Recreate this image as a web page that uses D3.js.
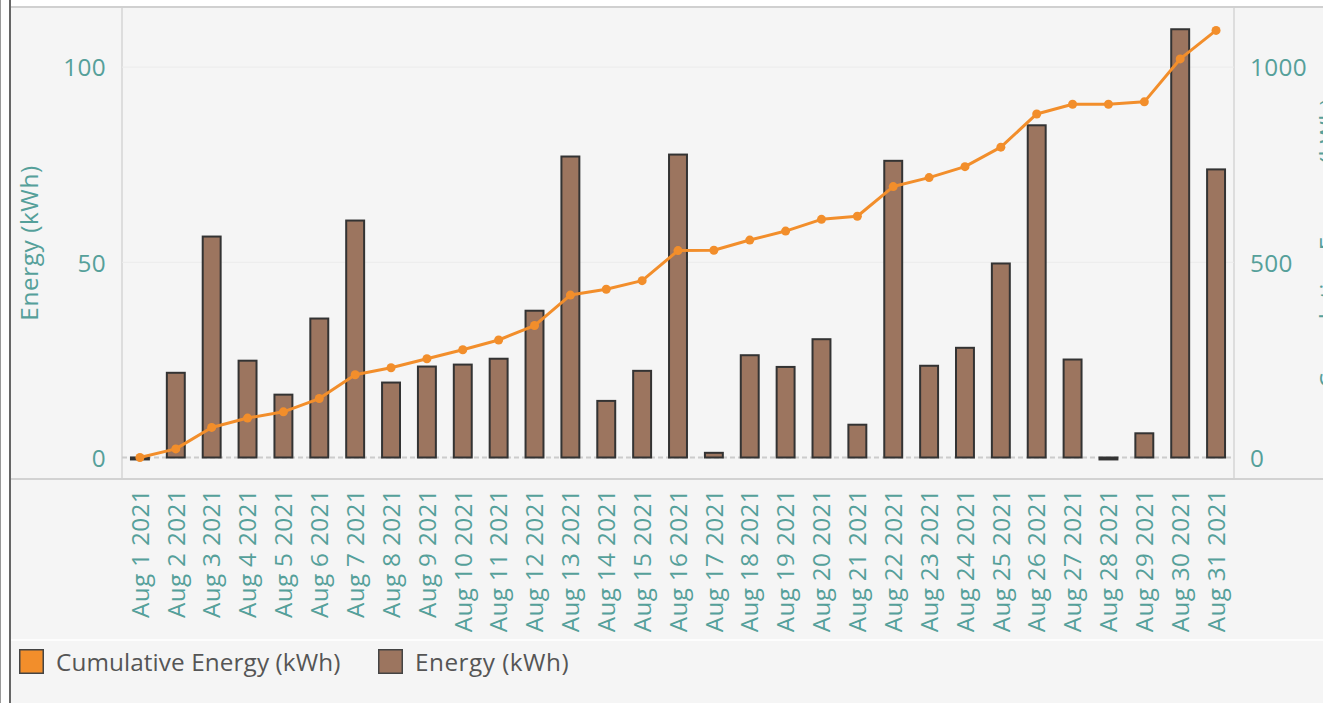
<!DOCTYPE html>
<html>
<head>
<meta charset="utf-8">
<script src="https://cdn.jsdelivr.net/npm/d3@7"></script>
<style>
  html, body { margin: 0; padding: 0; background: #ffffff; }
  svg { display: block; }
  text { font-family: "Open Sans", "Noto Sans", sans-serif; letter-spacing: 0.35px; }
</style>
</head>
<body>
<svg id="chart" width="1323" height="703"></svg>
<script>
// ---- data ----
const categories = [
  "Aug 1 2021","Aug 2 2021","Aug 3 2021","Aug 4 2021","Aug 5 2021","Aug 6 2021","Aug 7 2021",
  "Aug 8 2021","Aug 9 2021","Aug 10 2021","Aug 11 2021","Aug 12 2021","Aug 13 2021","Aug 14 2021",
  "Aug 15 2021","Aug 16 2021","Aug 17 2021","Aug 18 2021","Aug 19 2021","Aug 20 2021","Aug 21 2021",
  "Aug 22 2021","Aug 23 2021","Aug 24 2021","Aug 25 2021","Aug 26 2021","Aug 27 2021","Aug 28 2021",
  "Aug 29 2021","Aug 30 2021","Aug 31 2021"
];
const energy = [
  -0.5, 21.7, 56.6, 24.8, 16.1, 35.6, 60.7, 19.2, 23.3, 23.8, 25.3, 37.6, 77.1, 14.5, 22.2, 77.6,
  1.2, 26.2, 23.2, 30.3, 8.4, 76.0, 23.5, 28.1, 49.7, 85.1, 25.1, -0.5, 6.2, 109.7, 73.8
];
const cumulative = [
  0, 22, 77, 101, 117, 151, 212, 230, 253, 276, 301, 338, 416, 431, 453, 530,
  531, 557, 580, 610, 618, 694, 717, 745, 795, 880, 905, 905, 911, 1021, 1094
];
const leftTicks = [0, 50, 100];
const rightTicks = [0, 500, 1000];
const leftTitle = "Energy (kWh)";
const rightTitle = "Cumulative Energy (kWh)";
const legendItems = ["Cumulative Energy (kWh)", "Energy (kWh)"];

// ---- styles ----
const TEAL = "#55a09a";
const ORANGE = "#f28e2b";
const BROWN = "#9c755f";
const FS = 24.3;

const svg = d3.select("#chart");
const W = 1323, H = 703;

// page frame
svg.append("rect").attr("x", 0).attr("y", 0).attr("width", W).attr("height", H).attr("fill", "#ffffff");
svg.append("rect").attr("x", 11).attr("y", 6).attr("width", W - 11).attr("height", H - 6).attr("fill", "#f5f5f5");
svg.append("line").attr("x1", 0.5).attr("x2", 0.5).attr("y1", 0).attr("y2", H).attr("stroke", "#9a9a9a").attr("stroke-width", 1);
svg.append("line").attr("x1", 10).attr("x2", 10).attr("y1", 0).attr("y2", H).attr("stroke", "#666").attr("stroke-width", 2);
svg.append("line").attr("x1", 11).attr("x2", W).attr("y1", 7).attr("y2", 7).attr("stroke", "#d0d0d0").attr("stroke-width", 2);

const plotL = 122, plotR = 1234, plotT = 7, baseY = 457.5, axisB = 479;

const x = d3.scaleBand().domain(categories).range([plotL, plotR]).paddingInner(0.5).paddingOuter(0.25);
const yL = d3.scaleLinear().domain([0, 115.4]).range([baseY, plotT]);
const yR = d3.scaleLinear().domain([0, 1154]).range([baseY, plotT]);

// pane separators
svg.append("line").attr("x1", plotL).attr("x2", plotL).attr("y1", plotT).attr("y2", axisB).attr("stroke", "#d0d0d0").attr("stroke-width", 1.3);
svg.append("line").attr("x1", plotR).attr("x2", plotR).attr("y1", plotT).attr("y2", axisB).attr("stroke", "#d0d0d0").attr("stroke-width", 1.3);
svg.append("line").attr("x1", 11).attr("x2", W).attr("y1", axisB).attr("y2", axisB).attr("stroke", "#d2d2d2").attr("stroke-width", 2);
svg.append("line").attr("x1", 11).attr("x2", W).attr("y1", 640).attr("y2", 640).attr("stroke", "#ffffff").attr("stroke-width", 1.5);

// gridlines
svg.append("g").selectAll("line").data(leftTicks.filter(d => d !== 0)).join("line")
  .attr("x1", plotL).attr("x2", plotR)
  .attr("y1", d => yL(d)).attr("y2", d => yL(d))
  .attr("stroke", "#ebebeb").attr("stroke-width", 1);

// zero line
svg.append("line").attr("x1", plotL).attr("x2", plotR).attr("y1", yL(0)).attr("y2", yL(0))
  .attr("stroke", "#cccccc").attr("stroke-width", 2).attr("stroke-dasharray", "5,3");

// left axis
const gL = svg.append("g").attr("transform", `translate(${106},0)`)
  .call(d3.axisLeft(yL).tickValues(leftTicks).tickSize(0).tickPadding(0).tickFormat(d3.format("d")));
gL.select(".domain").remove();
gL.selectAll("text").attr("fill", TEAL).style("font-size", FS + "px").attr("dy", "0.36em").attr("x", 0);

// right axis
const gR = svg.append("g").attr("transform", `translate(${1250},0)`)
  .call(d3.axisRight(yR).tickValues(rightTicks).tickSize(0).tickPadding(0).tickFormat(d3.format("d")));
gR.select(".domain").remove();
gR.selectAll("text").attr("fill", TEAL).style("font-size", FS + "px").attr("dy", "0.36em").attr("x", 0);

// x axis
const gX = svg.append("g").attr("transform", `translate(0,${axisB})`)
  .call(d3.axisBottom(x).tickSize(0).tickPadding(0));
gX.select(".domain").remove();
gX.selectAll("text")
  .attr("fill", TEAL).style("font-size", FS + "px")
  .attr("text-anchor", "end")
  .attr("transform", "rotate(-90)")
  .attr("x", -10).attr("y", 0).attr("dy", "0.36em");

// axis titles
svg.append("text").attr("transform", `translate(38,${(plotT + axisB) / 2}) rotate(-90)`)
  .attr("text-anchor", "middle").attr("fill", TEAL).style("font-size", FS + "px").style("font-weight", 500)
  .style("letter-spacing", "0.6px")
  .text(leftTitle);
svg.append("text").attr("transform", `translate(1337,${(plotT + axisB) / 2}) rotate(-90)`)
  .attr("text-anchor", "middle").attr("fill", TEAL).style("font-size", FS + "px").style("font-weight", 500)
  .text(rightTitle);

// bars
svg.append("g").selectAll("rect").data(categories).join("rect")
  .attr("x", d => x(d))
  .attr("width", x.bandwidth())
  .attr("y", (d, i) => Math.min(yL(energy[i]), yL(0)))
  .attr("height", (d, i) => Math.abs(yL(energy[i]) - yL(0)))
  .attr("fill", BROWN)
  .attr("stroke", "#333333")
  .attr("stroke-width", 2);

// cumulative line
const line = d3.line()
  .x((d, i) => x(categories[i]) + x.bandwidth() / 2)
  .y(d => yR(d));
svg.append("path").datum(cumulative).attr("d", line)
  .attr("fill", "none").attr("stroke", ORANGE).attr("stroke-width", 3).attr("stroke-linejoin", "round");
svg.append("g").selectAll("circle").data(cumulative).join("circle")
  .attr("cx", (d, i) => x(categories[i]) + x.bandwidth() / 2)
  .attr("cy", d => yR(d))
  .attr("r", 4.5)
  .attr("fill", ORANGE);

// legend
const legendX = [19, 378];
const legendColors = [ORANGE, BROWN];
const legendSpacing = ["0.1px", "0.5px"];
const lg = svg.append("g");
legendItems.forEach((t, i) => {
  lg.append("rect").attr("x", legendX[i] + 0.75).attr("y", 649.75).attr("width", 23.5).attr("height", 23.5)
    .attr("fill", legendColors[i]).attr("stroke", "#444").attr("stroke-width", 1.5);
  lg.append("text").attr("x", legendX[i] + 37).attr("y", 671)
    .attr("fill", "#555555").style("font-size", FS + "px").style("letter-spacing", legendSpacing[i]).text(t);
});
</script>
</body>
</html>
